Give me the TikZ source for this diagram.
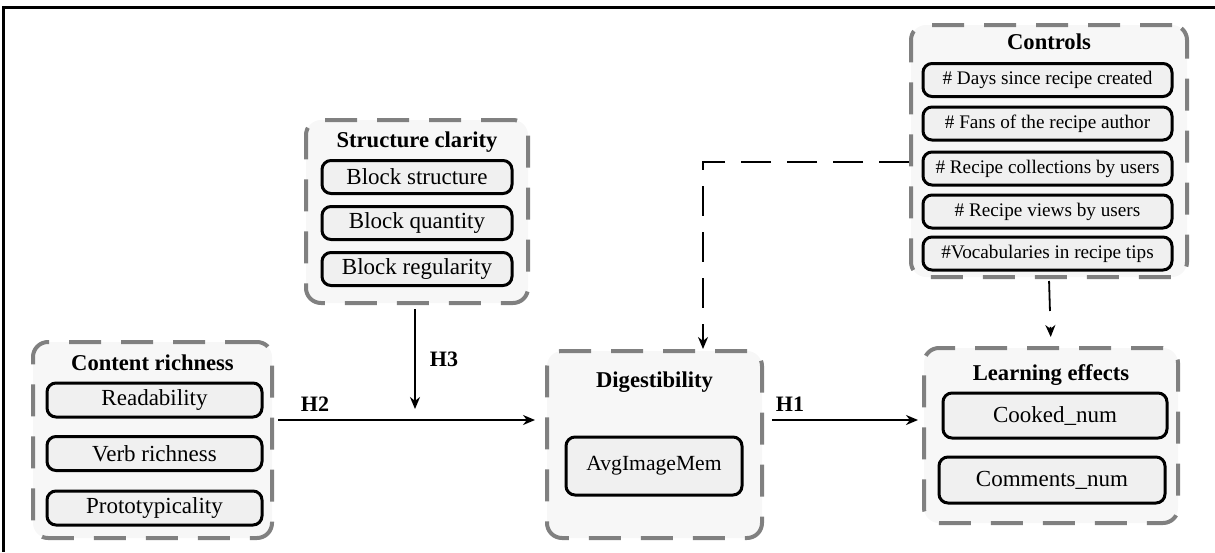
\documentclass[tikz,border=0pt]{standalone}
\usepackage{fontspec}
\setmainfont{Liberation Serif}
\usetikzlibrary{arrows.meta}
\definecolor{groupgray}{RGB}{128,128,128}
\definecolor{groupfill}{RGB}{247,247,247}
\definecolor{itemfill}{RGB}{240,240,240}

\begin{document}
\begin{tikzpicture}[x=0.5pt, y=-0.5pt,
    group/.style={draw=groupgray, line width=2pt, dash pattern=on 16pt off 10pt, rounded corners=7.5pt, fill=groupfill, inner sep=0pt},
    item/.style={draw, line width=1.5pt, rounded corners=4.5pt, fill=itemfill, inner sep=0pt, font=\fontsize{11.5}{13}\selectfont},
    ctrl/.style={item, minimum width=124.5pt, minimum height=16.5pt, font=\fontsize{9.6}{11}\selectfont},
    title/.style={font=\fontsize{11.3}{13}\selectfont\bfseries},
    hyp/.style={font=\fontsize{11}{13}\selectfont\bfseries},
    link/.style={line width=1pt, -{Stealth[length=6pt,width=5pt]}},
    ctrllink/.style={link, dash pattern=on 15pt off 8pt}]
            \useasboundingbox (0,0) rectangle (1215,552);
            % Frame
            \draw[line width=1.5pt] (1215,7) -- (3,7) -- (3,552);

            % Define groups
            \node[group, minimum width=119.5pt, minimum height=98pt] (content) at (152.5,440) {};
            \node[group, minimum width=111pt, minimum height=91.5pt] (structure) at (417,211.5) {};
            \node[group, minimum width=107.5pt, minimum height=93.5pt] (digest) at (654.5,444.5) {};
            \node[group, minimum width=127pt, minimum height=87.5pt] (learning) at (1051,435.5) {};
            \node[group, minimum width=138pt, minimum height=126pt] (controls) at (1049,151) {};

            % Define titles
            \node[title] (contenttitle) at (152.5,363) {Content richness};
            \node[title] (structuretitle) at (417,142) {Structure clarity};
            \node[title] (digesttitle) at (654.5,382) {Digestibility};
            \node[title] (learningtitle) at (1051,375) {Learning effects};
            \node[title] (controlstitle) at (1049,42) {Controls};

            % Define variables
            \node[item, minimum width=107.5pt, minimum height=17pt] (read) at (154.5,400) {Readability};
            \node[item, minimum width=107.5pt, minimum height=17pt] (verb) at (154.5,453.5) {Verb richness};
            \node[item, minimum width=107.5pt, minimum height=17pt] (proto) at (154.5,508) {Prototypicality};
            \node[item, minimum width=95pt, minimum height=16.5pt] (bstruct) at (417,177) {Block structure};
            \node[item, minimum width=95pt, minimum height=16.5pt] (bquant) at (417,223) {Block quantity};
            \node[item, minimum width=95pt, minimum height=16.5pt] (breg) at (417,269) {Block regularity};
            \node[item, minimum width=88pt, minimum height=29pt, font=\fontsize{10.8}{12}\selectfont] (avgmem) at (654,466) {AvgImageMem};
            \node[item, minimum width=112pt, minimum height=22.5pt] (cooked) at (1055,415.5) {Cooked\_num};
            \node[item, minimum width=113pt, minimum height=23pt] (comments) at (1052,480) {Comments\_num};
            \node[ctrl] (days) at (1047.5,80) {\# Days since recipe created};
            \node[ctrl] (fans) at (1047.5,123.5) {\# Fans of the recipe author};
            \node[ctrl] (colls) at (1047.5,168.5) {\# Recipe collections by users};
            \node[ctrl] (views) at (1047.5,211.5) {\# Recipe views by users};
            \node[ctrl] (vocab) at (1047.5,253.5) {\#Vocabularies in recipe tips};

            % Draw hypotheses
            \coordinate (mid) at (0,420);
            \coordinate (h3end) at (415,409);
            \draw[link, shorten <=2pt, shorten >=5pt] (content.east |- mid) -- (digest.west |- mid);
            \draw[link, shorten <=4pt, shorten >=2pt] (digest.east |- mid) -- (learning.west |- mid);
            \draw[link, shorten <=2pt] (structure.south -| h3end) -- (h3end);
            \node[hyp] (h2) at (315,404) {H2};
            \node[hyp] (h3) at (444,359) {H3};
            \node[hyp] (h1) at (790,404) {H1};

            % Draw controls
            \coordinate (bend) at (703,162);
            \draw[ctrllink, line width=0.9pt] (controls.west |- bend) -- (bend) -- (bend |- digest.north);
            \draw[ctrllink, line width=0.9pt, shorten <=1pt, shorten >=4.5pt] (controls.south) -- (learning.north);
        \end{tikzpicture}
\end{document}
